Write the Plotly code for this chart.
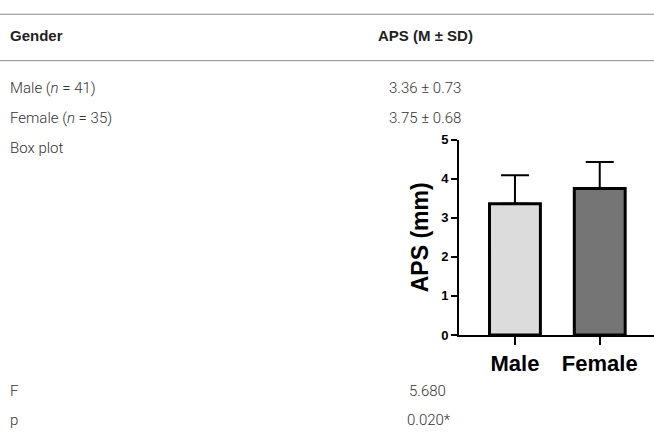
import plotly.graph_objects as go

# ---- data ----
groups = ["Male", "Female"]
group_n = [41, 35]
aps_mean = [3.36, 3.75]
aps_sd = [0.73, 0.68]
f_value = "5.680"
p_value = "0.020*"
y_ticks = [0, 1, 2, 3, 4, 5]
bar_colors = ["#dcdcdc", "#757575"]

W, H = 654, 448

def px(x):
    return x / W

def py(y):
    return 1 - y / H

fig = go.Figure()
fig.add_trace(go.Bar(
    x=groups, y=aps_mean, width=0.6,
    marker=dict(color=bar_colors, line=dict(color="black", width=3)),
    error_y=dict(type="data", array=aps_sd, arrayminus=[0] * len(aps_sd),
                 symmetric=False, color="black", thickness=2, width=14),
    showlegend=False,
))

tf = "Roboto, Liberation Sans, Arial, sans-serif"
hf = "Liberation Sans, Arial, sans-serif"
txt_color = "#333333"
annots = []

def add(text, x, y, anchor="left", bold=False, size=15):
    annots.append(dict(
        text=text,
        x=px(x), y=py(y), xref="paper", yref="paper",
        xanchor=anchor, yanchor="middle", showarrow=False,
        font=dict(family=hf if bold else tf, size=size,
                  color="#222" if bold else txt_color,
                  weight="bold" if bold else 300),
    ))

add("Gender", 8, 30, bold=True)
add("APS (M ± SD)", 425, 30, anchor="center", bold=True)
rows_y = [84, 115]
for g, n, m, s, yy in zip(groups, group_n, aps_mean, aps_sd, rows_y):
    add("%s (<i>n</i> = %d)" % (g, n), 8, yy)
    add("%.2f ± %.2f" % (m, s), 425, yy, anchor="center")
add("Box plot", 8, 146)
add("F", 8, 397)
add(f_value, 427, 397, anchor="center")
add("p", 8, 427)
add(p_value, 429, 427, anchor="center")

shapes = [
    dict(type="line", xref="paper", yref="paper", x0=0, x1=1, y0=py(7.5), y1=py(7.5),
         line=dict(color="#8a8a8a", width=1)),
    dict(type="line", xref="paper", yref="paper", x0=0, x1=1, y0=py(55.5), y1=py(55.5),
         line=dict(color="#8a8a8a", width=1)),
]

cf = "Liberation Sans, Arial, sans-serif"
fig.update_layout(
    width=W, height=H,
    margin=dict(l=0, r=0, t=0, b=0),
    paper_bgcolor="white", plot_bgcolor="white",
    annotations=annots, shapes=shapes,
    xaxis=dict(
        domain=[px(459), 1], range=[-0.66, 1.64],
        showline=True, linecolor="black", linewidth=2,
        ticks="outside", ticklen=8, tickwidth=2, tickcolor="black",
        tickfont=dict(family=cf, size=22, color="black", weight="bold"),
        showgrid=False, zeroline=False, fixedrange=True,
    ),
    yaxis=dict(
        domain=[py(339.3), py(137.3)], range=[0, 5],
        tickvals=y_ticks,
        showline=True, linecolor="black", linewidth=2,
        ticks="outside", ticklen=6, tickwidth=2, tickcolor="black",
        tickfont=dict(family=cf, size=13, color="black", weight="bold"),
        title=dict(text="<b>APS (mm)</b>", font=dict(family=cf, size=23, color="black"),
                   standoff=6),
        showgrid=False, zeroline=False, fixedrange=True,
    ),
)

post = (
    "var s=document.createElement('style');"
    "s.textContent='html,body{margin:0!important;padding:0!important;overflow:hidden!important}';"
    "document.head.appendChild(s);"
    "var d=document.getElementById('{plot_id}');"
    "d.style.position='fixed';d.style.left='0px';d.style.top='0px';"
)

fig.write_html(
    "out.html",
    config={"displayModeBar": False},
    post_script=post,
)
